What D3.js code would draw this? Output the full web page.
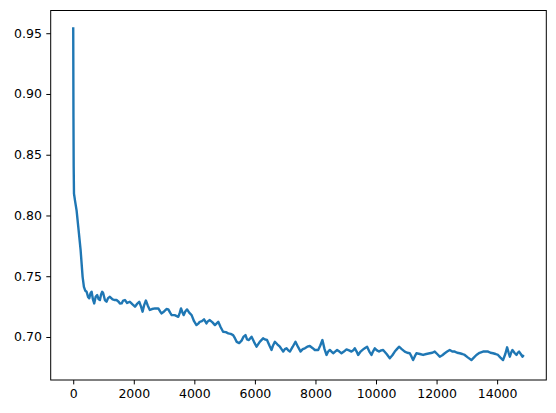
<!DOCTYPE html>
<html>
<head>
<meta charset="utf-8">
<script src="https://cdn.jsdelivr.net/npm/d3@7"></script>
<style>
  html, body { margin: 0; padding: 0; background: #fff; }
  svg { display: block; }
  .tick text { font-family: "DejaVu Sans", sans-serif; font-size: 12.5px; fill: #000; }
</style>
</head>
<body>
<svg id="chart" width="556" height="413"></svg>
<script>
const steps = [0,8,15,25,60,112,165,244,310,353,400,442,490,528,570,607,650,693,740,792,840,881,920,957,990,1046,1100,1150,1211,1300,1377,1430,1500,1542,1600,1650,1707,1780,1870,1950,2040,2100,2180,2240,2290,2340,2400,2460,2530,2600,2700,2810,2870,2920,3000,3080,3140,3200,3250,3350,3470,3520,3560,3610,3650,3700,3760,3830,3910,3990,4070,4130,4180,4250,4320,4400,4450,4510,4600,4680,4730,4790,4870,4950,5040,5120,5200,5280,5340,5400,5480,5560,5620,5690,5740,5800,5890,5970,6055,6160,6270,6330,6400,6480,6550,6600,6660,6740,6825,6880,6935,6990,7045,7100,7155,7250,7340,7420,7510,7580,7650,7730,7815,7900,7980,8090,8160,8230,8300,8365,8420,8475,8530,8585,8650,8715,8790,8860,8940,9025,9110,9190,9250,9300,9360,9410,9490,9575,9640,9705,9780,9850,9900,9960,10030,10100,10170,10235,10350,10455,10540,10620,10690,10760,10850,10950,11030,11115,11170,11225,11280,11335,11450,11555,11660,11775,11860,11940,12020,12105,12190,12270,12350,12435,12520,12600,12680,12765,12850,12930,13040,13150,13230,13315,13420,13535,13620,13700,13780,13865,13950,14030,14110,14195,14270,14330,14380,14420,14460,14505,14570,14640,14680,14725,14780,14835,14880];
const loss = [0.955,0.880,0.840,0.818,0.812,0.804,0.791,0.7715,0.7495,0.7413,0.738,0.7372,0.733,0.7318,0.736,0.7372,0.731,0.7276,0.733,0.7345,0.731,0.7304,0.735,0.7372,0.736,0.7304,0.729,0.732,0.7331,0.731,0.7304,0.7304,0.729,0.7276,0.7277,0.730,0.7304,0.728,0.729,0.727,0.7249,0.727,0.729,0.725,0.7208,0.726,0.730,0.726,0.7222,0.723,0.7235,0.7235,0.721,0.7194,0.721,0.723,0.7227,0.720,0.718,0.718,0.7166,0.720,0.7235,0.720,0.718,0.721,0.7227,0.720,0.718,0.713,0.7098,0.711,0.7125,0.713,0.7145,0.7112,0.713,0.7139,0.712,0.7098,0.711,0.7125,0.708,0.7043,0.704,0.703,0.7025,0.7016,0.699,0.696,0.695,0.697,0.700,0.7016,0.698,0.6975,0.7002,0.696,0.692,0.696,0.6989,0.698,0.6975,0.693,0.6893,0.693,0.6961,0.694,0.692,0.690,0.688,0.690,0.6907,0.689,0.688,0.692,0.6961,0.692,0.688,0.690,0.6907,0.692,0.6926,0.691,0.6893,0.6893,0.693,0.6975,0.690,0.6852,0.688,0.6893,0.688,0.6866,0.688,0.6893,0.688,0.6866,0.688,0.6898,0.689,0.688,0.689,0.6907,0.688,0.6852,0.688,0.6898,0.691,0.692,0.688,0.6852,0.688,0.6907,0.689,0.688,0.689,0.6893,0.686,0.6825,0.685,0.688,0.690,0.692,0.690,0.688,0.687,0.6866,0.684,0.681,0.684,0.6866,0.686,0.6852,0.686,0.6866,0.687,0.688,0.686,0.6838,0.685,0.6866,0.688,0.6893,0.688,0.688,0.687,0.6866,0.686,0.6852,0.683,0.681,0.683,0.6852,0.687,0.688,0.688,0.688,0.687,0.6866,0.686,0.6852,0.683,0.681,0.686,0.6915,0.687,0.6838,0.687,0.6893,0.687,0.6852,0.687,0.688,0.686,0.6838,0.6852];
const xTickValues = [0,2000,4000,6000,8000,10000,12000,14000];
const yTickValues = [0.70,0.75,0.80,0.85,0.90,0.95];

const plotLeft = 50.7, plotRight = 546.3, plotTop = 10.5, plotBottom = 380;
const svg = d3.select("#chart");

const xExt = d3.extent(steps);
const xPad = (xExt[1] - xExt[0]) * 0.05;
const x = d3.scaleLinear().domain([xExt[0] - xPad, xExt[1] + xPad]).range([plotLeft, plotRight]);
const y = d3.scaleLinear().domain([0.6646, 0.9687]).range([plotBottom, plotTop]);

const data = steps.map((s, i) => ({s, v: loss[i]}));

svg.append("clipPath").attr("id", "clip")
  .append("rect").attr("x", plotLeft).attr("y", plotTop)
  .attr("width", plotRight - plotLeft).attr("height", plotBottom - plotTop);

svg.append("path")
  .datum(data)
  .attr("clip-path", "url(#clip)")
  .attr("fill", "none")
  .attr("stroke", "#1f77b4")
  .attr("stroke-width", 2.4)
  .attr("stroke-linejoin", "round")
  .attr("stroke-linecap", "butt")
  .attr("d", d3.line().x(d => x(d.s)).y(d => y(d.v)));

const xAxis = svg.append("g").attr("transform", `translate(0,${plotBottom})`)
  .call(d3.axisBottom(x).tickValues(xTickValues).tickFormat(d3.format("d")).tickSize(4.4).tickPadding(4.4));
const yAxis = svg.append("g").attr("transform", `translate(${plotLeft},0)`)
  .call(d3.axisLeft(y).tickValues(yTickValues).tickFormat(d3.format(".2f")).tickSize(4.4).tickPadding(4.4));
[xAxis, yAxis].forEach(g => {
  g.select(".domain").remove();
  g.selectAll(".tick line").attr("stroke", "#000").attr("stroke-width", 1);
});

svg.append("rect")
  .attr("x", plotLeft).attr("y", plotTop)
  .attr("width", plotRight - plotLeft).attr("height", plotBottom - plotTop)
  .attr("fill", "none").attr("stroke", "#000").attr("stroke-width", 1);
</script>
</body>
</html>
